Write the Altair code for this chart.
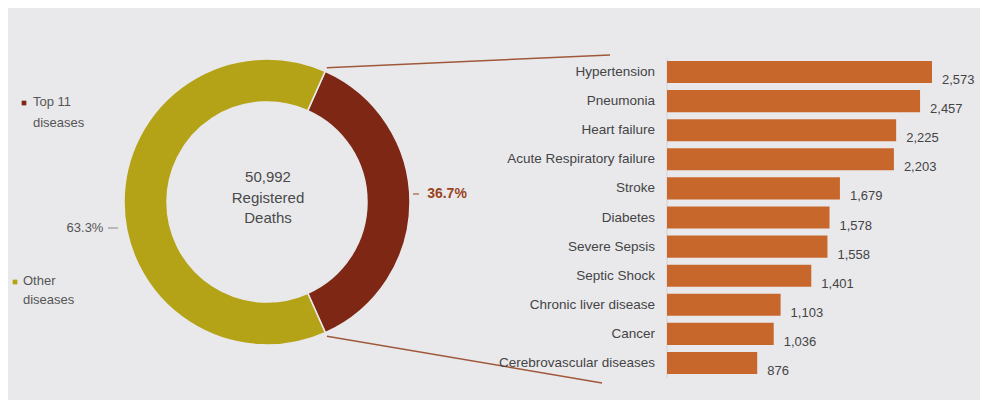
import math
import altair as alt
import pandas as pd

# ---------------- data ----------------
diseases = ["Hypertension", "Pneumonia", "Heart failure", "Acute Respiratory failure",
            "Stroke", "Diabetes", "Severe Sepsis", "Septic Shock",
            "Chronic liver disease", "Cancer", "Cerebrovascular diseases"]
deaths = [2573, 2457, 2225, 2203, 1679, 1578, 1558, 1401, 1103, 1036, 876]
total_deaths = 50992
groups = ["Top 11 diseases", "Other diseases"]
group_legend = ["Top 11\ndiseases", "Other\ndiseases"]
group_colors = ["#7d2714", "#b5a317"]
bar_color = "#c8672c"

top_total = sum(deaths)
group_values = [top_total, total_deaths - top_total]
group_pcts = [f"{v / total_deaths * 100:.1f}%" for v in group_values]

bars_df = pd.DataFrame({"disease": diseases, "deaths": deaths,
                        "label": [f"{d:,}" for d in deaths]})
donut_df = pd.DataFrame({"group": groups, "value": group_values, "pct": group_pcts,
                         "idx": [0, 1], "legend": group_legend})
center_df = pd.DataFrame({"t": [f"{total_deaths:,}\nRegistered\nDeaths"]})
one = pd.DataFrame({"a": [0]})

# ---------------- layout constants ----------------
FONT = "Liberation Sans"
BG = "#e9e9ec"
CX, CY = 259, 194
R_OUT, R_IN = 143, 100
START = math.radians(24)
W, H = 972, 392

theta = alt.Theta("value:Q", stack=True,
                  scale=alt.Scale(range=[START, START + 2 * math.pi]))
order = alt.Order("idx:Q")
gcolor = alt.Color("group:N", scale=alt.Scale(domain=groups, range=group_colors), legend=None)

arc = alt.Chart(donut_df).mark_arc(stroke=BG, strokeWidth=1.5).encode(
    theta=theta, order=order, color=gcolor,
    x=alt.value(CX), y=alt.value(CY),
    radius=alt.value(R_OUT), radius2=alt.value(R_IN))

pct_top = alt.Chart(donut_df).transform_calculate(
    t="datum.idx == 0 ? datum.pct : ''"
).mark_text(radius=180, dy=-8, font=FONT, fontSize=14, fontWeight="bold",
            color="#9b4422").encode(
    theta=theta, order=order, text="t:N", x=alt.value(CX), y=alt.value(CY))

pct_other = alt.Chart(donut_df).transform_calculate(
    t="datum.idx == 1 ? datum.pct : ''"
).mark_text(radius=182, dy=26, font=FONT, fontSize=13, color="#555555").encode(
    theta=theta, order=order, text="t:N", x=alt.value(CX), y=alt.value(CY))

center = alt.Chart(center_df).mark_text(
    lineBreak="\n", lineHeight=20.5, baseline="top", align="center",
    font=FONT, fontSize=15, color="#4a4a4a").encode(
    text="t:N", x=alt.value(CX + 1), y=alt.value(162))

# small leader ticks next to percentage labels
lead1 = alt.Chart(one).mark_rule(color="#9b4422", strokeWidth=1).encode(
    x=alt.value(CX + R_OUT + 3), x2=alt.value(CX + R_OUT + 9),
    y=alt.value(CY - 8), y2=alt.value(CY - 8))
lead2 = alt.Chart(one).mark_rule(color="#888888", strokeWidth=1).encode(
    x=alt.value(100), x2=alt.value(110), y=alt.value(CY + 26), y2=alt.value(CY + 26))

# connectors from the Top-11 slice to the bar list
a0 = START
a1 = START + 2 * math.pi * top_total / total_deaths
p0 = (CX + (R_OUT + 4) * math.sin(a0), CY - (R_OUT + 4) * math.cos(a0))
p1 = (CX + (R_OUT + 4) * math.sin(a1), CY - (R_OUT + 4) * math.cos(a1))
conn_top = alt.Chart(one).mark_rule(color="#a0583a", strokeWidth=1.5).encode(
    x=alt.value(p0[0]), y=alt.value(p0[1]), x2=alt.value(602), y2=alt.value(47))
conn_bot = alt.Chart(one).mark_rule(color="#a0583a", strokeWidth=1.5).encode(
    x=alt.value(p1[0]), y=alt.value(p1[1]), x2=alt.value(594), y2=alt.value(375))

# legend (manual, two separated entries)
legend_layers = []
leg_pos = [(16, 95, 25, 88, 21), (7, 274, 15, 267, 19)]
for i, (sx, sy, tx, ty, lh) in enumerate(leg_pos):
    sub = alt.Chart(donut_df).transform_filter(f"datum.idx == {i}")
    legend_layers.append(sub.mark_square(size=22, opacity=1).encode(
        color=gcolor, x=alt.value(sx), y=alt.value(sy)))
    legend_layers.append(sub.mark_text(
        lineBreak="\n", lineHeight=lh, align="left", baseline="top",
        font=FONT, fontSize=13, color="#555555").encode(
        text="legend:N", x=alt.value(tx), y=alt.value(ty)))

# bars
xscale = alt.Scale(range=[659, 924], zero=True, nice=False)
yscale = alt.Scale(range=[49.5, 369.5], paddingInner=0.24, paddingOuter=0.12)
ybar = alt.Y("disease:N", sort=diseases, axis=None, scale=yscale)

bars = alt.Chart(bars_df).mark_bar(color=bar_color).encode(
    x=alt.X("deaths:Q", axis=None, scale=xscale), y=ybar)

base_rule = alt.Chart(one).mark_rule(color="#d2d2d7", strokeWidth=1).encode(
    x=alt.X(datum=0, type="quantitative", axis=None, scale=xscale),
    y=alt.value(50), y2=alt.value(370))

cat_labels = alt.Chart(bars_df).mark_text(
    align="right", baseline="middle", dx=-12, font=FONT, fontSize=13.5,
    color="#444444").encode(
    x=alt.X(datum=0, type="quantitative", axis=None, scale=xscale),
    y=ybar, text="disease:N")

val_labels = alt.Chart(bars_df).mark_text(
    align="left", baseline="middle", dx=10, dy=8, font=FONT, fontSize=13,
    color="#444444").encode(
    x=alt.X("deaths:Q", axis=None, scale=xscale), y=ybar, text="label:N")

chart = alt.layer(
    conn_top, conn_bot, arc, pct_top, pct_other, center, lead1, lead2,
    *legend_layers, base_rule, bars, cat_labels, val_labels
).resolve_scale(color="shared").properties(
    width=W, height=H, padding=0, background=BG,
    autosize=alt.AutoSizeParams(type="none")
).configure_view(stroke=None)

chart.save("out.html", embed_options={"renderer": "svg", "actions": False})
